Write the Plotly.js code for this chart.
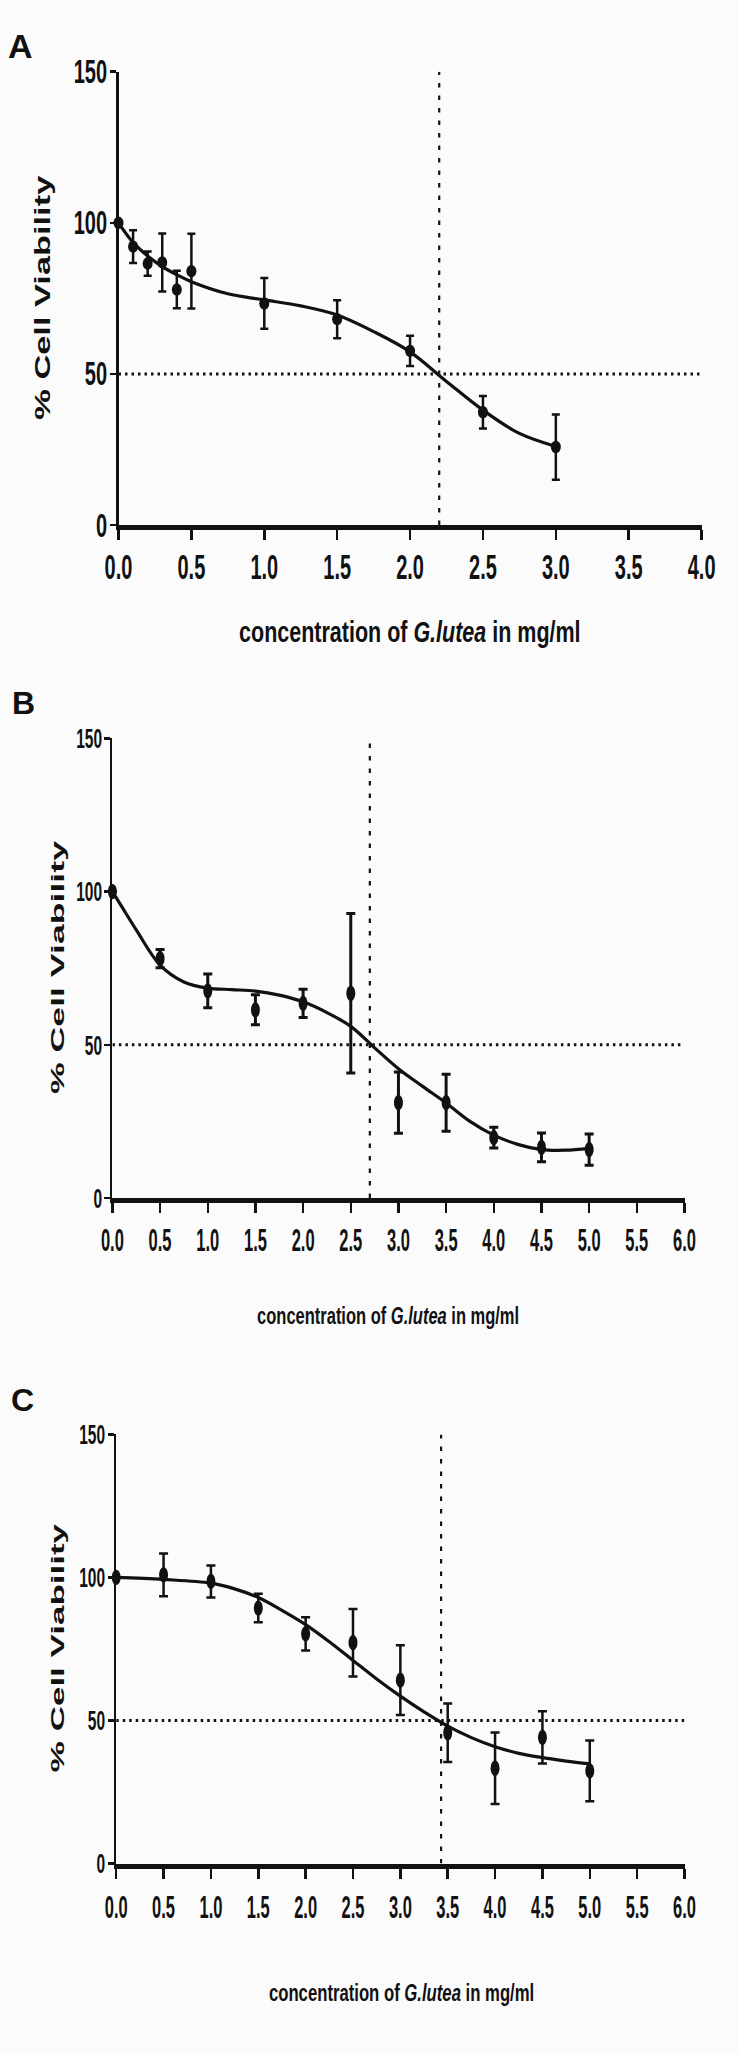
<!DOCTYPE html>
<html>
<head>
<meta charset="utf-8">
<script src="https://cdn.plot.ly/plotly-3.0.1.min.js"></script>
<style>html,body{margin:0;padding:0;background:#fbfbfb;}</style>
</head>
<body>
<div id="chart" style="width:738px;height:2053px;"></div>
<script>
// ---------- Data ----------
// Panel A
const xA = [0, 0.1, 0.2, 0.3, 0.4, 0.5, 1.0, 1.5, 2.0, 2.5, 3.0];
const yA = [100, 92.1, 86.5, 86.9, 77.9, 84.0, 73.3, 68.1, 57.6, 37.3, 25.8];
const errA = [0, 5.4, 4.0, 9.6, 6.2, 12.4, 8.4, 6.3, 5.0, 5.4, 10.8];
const fitXA = [0, 0.1, 0.2, 0.3, 0.4, 0.5, 0.75, 1.0, 1.25, 1.5, 1.75, 2.0, 2.25, 2.5, 2.75, 3.0];
const fitYA = [100, 93.5, 89, 85.5, 82.8, 80.5, 76.5, 74.5, 72.5, 69.5, 64, 57.3, 47.5, 38, 30.3, 26];
const ic50A = 2.2;

// Panel B
const xB = [0, 0.5, 1.0, 1.5, 2.0, 2.5, 3.0, 3.5, 4.0, 4.5, 5.0];
const yB = [100, 78.1, 67.6, 61.4, 63.5, 66.8, 31.1, 31.1, 19.7, 16.5, 15.8];
const errB = [0, 3.0, 5.5, 4.9, 4.6, 26.0, 10.0, 9.3, 3.4, 4.7, 5.1];
const fitXB = [0, 0.1, 0.25, 0.5, 0.75, 1.0, 1.25, 1.5, 1.75, 2.0, 2.25, 2.5, 2.75, 3.0, 3.25, 3.5, 3.75, 4.0, 4.25, 4.5, 4.75, 5.0];
const fitYB = [100, 95, 87.5, 76, 70.5, 68.5, 68, 67.5, 66.2, 64, 60.5, 56, 49, 42.2, 36.5, 31, 25, 20.5, 17.5, 15.8, 15.6, 16.2];
const ic50B = 2.7;

// Panel C
const xC = [0, 0.5, 1.0, 1.5, 2.0, 2.5, 3.0, 3.5, 4.0, 4.5, 5.0];
const yC = [100, 100.9, 98.6, 89.3, 80.3, 77.2, 64.1, 45.7, 33.3, 44.1, 32.4];
const errC = [0, 7.5, 5.6, 5.0, 5.8, 11.8, 12.2, 10.2, 12.5, 9.1, 10.6];
const fitXC = [0, 0.5, 1.0, 1.25, 1.5, 1.75, 2.0, 2.25, 2.5, 2.75, 3.0, 3.25, 3.5, 3.75, 4.0, 4.25, 4.5, 4.75, 5.0];
const fitYC = [100, 99.3, 98, 96, 93, 88.5, 83.5, 77.5, 71, 64.5, 58.5, 53, 48, 44, 40.8, 38.5, 37, 35.8, 34.8];
const ic50C = 3.43;

const halfLine = 50;
const yRange = [0, 150];
const yTickVals = [0, 50, 100, 150];
const yTickText = ['0', '50', '100', '150'];
const xMaxA = 4, xMaxB = 6, xMaxC = 6;
const panelLetters = ['A', 'B', 'C'];
const xTitle = 'concentration of <i>G.lutea</i> in mg/ml';
const yTitle = '% Cell Viability';

// ---------- Styling ----------
const arial = "'Liberation Sans', Arial, Helvetica, sans-serif";
const ink = '#111111';

function panelTraces(xs, ys, errs, fx, fy, ic50, xmax, ax, capW, thick, msize) {
  const xa = 'x' + ax, ya = 'y' + ax;
  return [
    {x: [0, xmax], y: [halfLine, halfLine], xaxis: xa, yaxis: ya, mode: 'lines',
     line: {color: ink, width: 3, dash: '2.5px,4px'}, hoverinfo: 'skip', cliponaxis: false},
    {x: [ic50, ic50], y: yRange, xaxis: xa, yaxis: ya, mode: 'lines',
     line: {color: ink, width: 2.2, dash: '4.5px,8px'}, hoverinfo: 'skip', cliponaxis: false},
    {x: fx, y: fy, xaxis: xa, yaxis: ya, mode: 'lines', line: {color: ink, width: 3.2, shape: 'spline', smoothing: 1},
     cliponaxis: false},
    {x: xs, y: ys, xaxis: xa, yaxis: ya, mode: 'markers', cliponaxis: false,
     marker: {color: ink, size: msize, symbol: 'circle'},
     error_y: {type: 'data', array: errs, visible: true, color: ink, thickness: thick, width: capW}}
  ];
}

const traces = [].concat(
  panelTraces(xA, yA, errA, fitXA, fitYA, ic50A, xMaxA, '', 4, 2.5, 10),
  panelTraces(xB, yB, errB, fitXB, fitYB, ic50B, xMaxB, '2', 4.5, 3, 9),
  panelTraces(xC, yC, errC, fitXC, fitYC, ic50C, xMaxC, '3', 4.5, 2.5, 9)
);

const W = 738, H = 2053;
function dx(px) { return px / W; }
function dy(py) { return 1 - py / H; }

function xAxis(l, r, xmax, fs, anchor) {
  return {
    domain: [dx(l), dx(r)], range: [0, xmax], anchor: anchor,
    tickmode: 'linear', tick0: 0, dtick: 0.5, tickformat: '.1f',
    showgrid: false, zeroline: false, showline: true, linecolor: ink, linewidth: 5,
    ticks: 'outside', ticklen: 10, tickwidth: 2.5, tickcolor: ink,
    tickfont: {family: arial, size: fs, color: ink, weight: 'bold'}
  };
}
function yAxis(t, b, fs, anchor) {
  return {
    domain: [dy(b), dy(t)], range: yRange, anchor: anchor,
    tickmode: 'array', tickvals: yTickVals, ticktext: yTickText,
    showgrid: false, zeroline: false, showline: true, linecolor: ink, linewidth: 2.5,
    ticks: 'outside', ticklen: 6, tickwidth: 2.5, tickcolor: ink,
    tickfont: {family: arial, size: fs, color: ink, weight: 'bold'}
  };
}

function ann(text, px, py, size, angle) {
  return {text: text, x: dx(px), y: dy(py), xref: 'paper', yref: 'paper',
    xanchor: 'center', yanchor: 'middle', showarrow: false, textangle: angle || 0,
    font: {family: arial, size: size, color: ink, weight: 'bold'}};
}

const layout = {
  width: W, height: H, margin: {l: 0, r: 0, t: 0, b: 0},
  paper_bgcolor: '#fbfbfb', plot_bgcolor: '#fbfbfb', showlegend: false,
  xaxis: xAxis(118.5, 701.6, xMaxA, 20, 'y'),
  yaxis: yAxis(71.7, 525, 20, 'x'),
  xaxis2: xAxis(112.4, 684.5, xMaxB, 16.5, 'y2'),
  yaxis2: yAxis(738.3, 1198, 15.5, 'x2'),
  xaxis3: xAxis(116.2, 684.5, xMaxC, 16.5, 'y3'),
  yaxis3: yAxis(1434.4, 1863.5, 15.5, 'x3'),
  annotations: [
    ann(panelLetters[0], 20, 46, 34),
    ann(panelLetters[1], 23, 703, 32),
    ann(panelLetters[2], 22, 1400, 32),
    ann(yTitle, 43, 298, 21.5, -90),
    ann(yTitle, 57, 967, 18.3, -90),
    ann(yTitle, 58, 1648, 17.5, -90),
    ann(xTitle, 410, 633, 21.5),
    ann(xTitle, 388, 1315, 16.5),
    ann(xTitle, 401, 1993, 16.7)
  ]
};

// Condensed-and-tall lettering of the original figure: stretch text glyphs in place.
function stretchText(el, sx, sy, opts) {
  const bb = el.getBBox();
  const cx = bb.x + bb.width / 2, cy = bb.y + bb.height / 2;
  const orig = el.getAttribute('transform') || '';
  const t = orig + ' translate(' + cx + ',' + cy + ') scale(' + sx + ',' + sy + ') translate(' + (-cx) + ',' + (-cy) + ')';
  el.setAttribute('transform', t);
  if (opts) {
    const r = el.getBoundingClientRect();
    let tx = 0, ty = 0;
    if (opts.cy !== undefined) ty = opts.cy - (r.top + r.height / 2);
    if (opts.right !== undefined) tx = opts.right - r.right;
    el.setAttribute('transform', 'translate(' + tx + ',' + ty + ') ' + t);
  }
}

const panelText = [
  {sub: 'xy', xt: 'xtick', yt: 'ytick', sy: 1.75, xcy: 567, yright: 107, mk: 1.25},
  {sub: 'x2y2', xt: 'x2tick', yt: 'y2tick', sy: 1.9, xcy: 1240, yright: 102, mk: 1.7},
  {sub: 'x3y3', xt: 'x3tick', yt: 'y3tick', sy: 1.9, xcy: 1907, yright: 105, mk: 1.7}
];
const ySpread = [1.6, 1.95, 2.0];
const xTitleStretch = [1.35, 1.42, 1.42];

Plotly.newPlot('chart', traces, layout, {staticPlot: true, displayModeBar: false}).then(function () {
  panelText.forEach(function (p) {
    document.querySelectorAll('g.' + p.xt + ' text').forEach(function (el) {
      stretchText(el, 1.0, p.sy, {cy: p.xcy});
    });
    document.querySelectorAll('g.' + p.yt + ' text').forEach(function (el) {
      stretchText(el, 1.0, p.sy - 0.1, {right: p.yright});
    });
    // slightly oval markers, as in the original
    document.querySelectorAll('g.subplot.' + p.sub + ' path.point').forEach(function (el) {
      const tr = el.getAttribute('transform') || '';
      el.setAttribute('transform', tr + ' scale(1,' + p.mk + ')');
    });
  });
  for (let i = 0; i < 3; i++) {
    const yt = document.querySelector('g.annotation[data-index="' + (3 + i) + '"] text');
    if (yt) stretchText(yt, ySpread[i], 1.0);
    const xt = document.querySelector('g.annotation[data-index="' + (6 + i) + '"] text');
    if (xt) stretchText(xt, 1.0, xTitleStretch[i]);
  }
});
</script>
</body>
</html>
